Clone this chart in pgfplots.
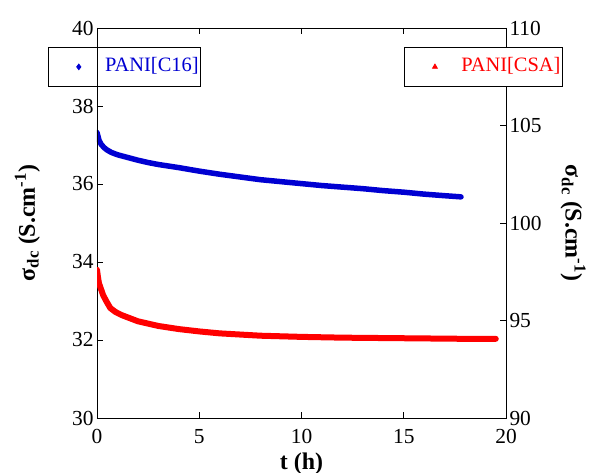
\documentclass[border=0pt]{standalone}
\usepackage{pgfplots}
\pgfplotsset{compat=1.18}
\usepackage{fontspec}
\setmainfont{Liberation Serif}
\definecolor{pblue}{RGB}{0,0,210}
\definecolor{pred}{RGB}{255,0,0}
\pgfplotsset{
  myaxis/.style={
    scale only axis, width=409bp, height=390bp,
    xmin=0, xmax=20,
    axis line style={line width=0.8bp},
    every tick/.style={black, line width=0.8bp},
    major tick length=6bp, tick align=inside,
    tick label style={font=\fontsize{21.5}{25}\selectfont},
    /pgf/number format/assume math mode=true,
    yticklabel={\pgfmathprintnumber{\tick}},
    legend image code/.code={\path (0bp,0bp) (54bp,0bp); \draw[##1] plot coordinates {(30bp,0bp)};},
  },
}
\begin{document}
\begin{tikzpicture}
\begin{axis}[myaxis, name=ax,
  ymin=30, ymax=40, ytick={30,32,...,40}, xtick={0,5,...,20},
  ytick pos=left, xtick pos=both,
  xticklabel={\rule{0pt}{22bp}\pgfmathprintnumber{\tick}},
  xlabel={\textbf{t (h)}},
  xlabel style={font=\fontsize{24}{28}\selectfont, at={(axis description cs:0.5,-0.118)}, anchor=center},
  ylabel={\textbf{σ\textsubscript{dc} (S.cm\textsuperscript{-1})}},
  ylabel style={font=\fontsize{24}{28}\selectfont, at={(axis description cs:-0.17,0.5)}, anchor=center},
  legend style={at={(axis description cs:-0.1198,0.9513)}, anchor=north west, draw=black, line width=0.8bp,
    inner xsep=0bp, inner ysep=0bp, font=\fontsize{20.5}{24}\selectfont, text=pblue,
    nodes={inner xsep=2bp, inner ysep=9.5bp, text height=15bp, text depth=5bp}},
]
\addplot[pblue, line width=5.5bp, line join=round, line cap=round, forget plot] coordinates {
(0,37.32) (0.05,37.22) (0.1,37.12) (0.2,37.02) (0.35,36.93) (0.5,36.87) (0.7,36.81)
(1.0,36.75) (1.5,36.68) (2,36.61) (2.5,36.55) (3,36.50) (3.5,36.46) (4,36.42)
(5,36.33) (6,36.25) (7,36.18) (8,36.11) (9,36.06) (10,36.01) (11,35.96) (12,35.92)
(13,35.88) (14,35.83) (15,35.79) (16,35.74) (17,35.70) (17.8,35.67)
};
\addlegendimage{only marks, mark=diamond*, pblue, mark size=2.8bp}
\addlegendentry{PANI[C16]\hspace{8bp}}
\end{axis}
\begin{axis}[myaxis,
  ymin=90, ymax=110, ytick={90,95,...,110}, xtick=\empty,
  ytick pos=right, yticklabel pos=right,
  ylabel={\textbf{σ\textsubscript{dc} (S.cm\textsuperscript{-1})}},
  ylabel style={font=\fontsize{24}{28}\selectfont, at={(axis description cs:1.164,0.5)}, anchor=center, rotate=180},
  legend style={at={(axis description cs:1.139,0.9513)}, anchor=north east, draw=black, line width=0.8bp,
    inner xsep=0bp, inner ysep=0bp, font=\fontsize{20.5}{24}\selectfont, text=pred,
    nodes={inner xsep=2bp, inner ysep=9.5bp, text height=15bp, text depth=5bp}},
]
\addplot[pred, line width=6bp, line join=round, line cap=round, forget plot] coordinates {
(0,97.60) (0.05,97.20) (0.1,96.90) (0.2,96.60) (0.3,96.30) (0.45,96.00) (0.65,95.64)
(0.9,95.44) (1.2,95.28) (1.5,95.16) (2,94.96) (2.5,94.84) (3,94.72) (4,94.56)
(5,94.44) (6,94.34) (7,94.28) (8,94.22) (10,94.16) (12,94.12) (14,94.10) (16,94.08)
(18,94.06) (19.5,94.06)
};
\addlegendimage{only marks, mark=triangle*, pred, mark size=2.8bp}
\addlegendentry{PANI[CSA]\hspace{8bp}}
\end{axis}
\pgfresetboundingbox
\path ([shift={(-97bp,-55bp)}]ax.south west) rectangle ([shift={(88bp,28bp)}]ax.north east);
\end{tikzpicture}
\end{document}
